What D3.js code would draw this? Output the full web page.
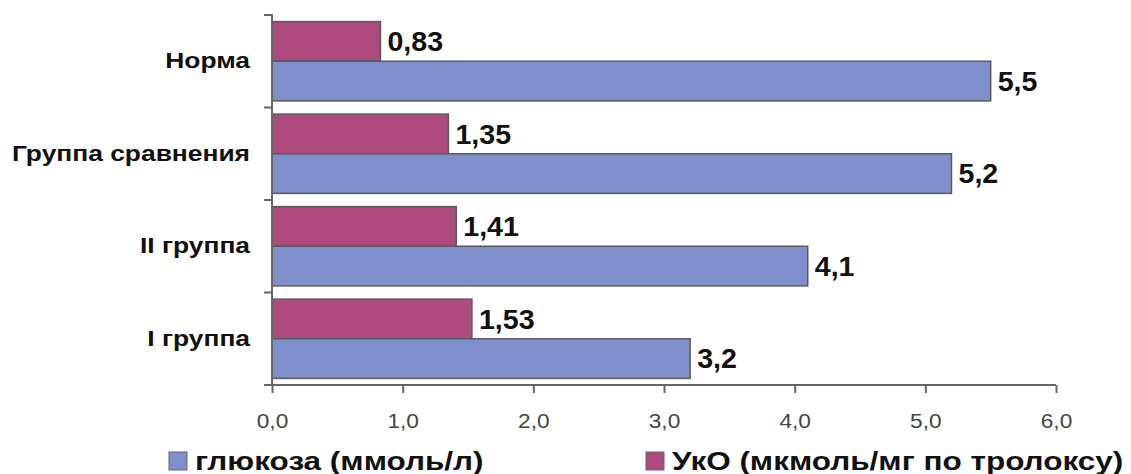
<!DOCTYPE html>
<html><head><meta charset="utf-8">
<script src="https://cdn.jsdelivr.net/npm/d3@7"></script>
<style>body{margin:0;background:#fff}svg{display:block}</style>
</head><body>
<svg id="c" width="1131" height="474"></svg>
<script>
const categories = ["Норма", "Группа сравнения", "II группа", "I группа"];
const seriesNames = ["УкО (мкмоль/мг по тролоксу)", "глюкоза (ммоль/л)"];
const ukoValues = [0.83, 1.35, 1.41, 1.53];
const glucoseValues = [5.5, 5.2, 4.1, 3.2];
const ukoLabels = ["0,83", "1,35", "1,41", "1,53"];
const glucoseLabels = ["5,5", "5,2", "4,1", "3,2"];
const xTicks = [0, 1, 2, 3, 4, 5, 6];

const colors = {uko: "#AE4A7E", glu: "#7F8FCB"};
const font = "'Liberation Sans', Arial, sans-serif";
const svg = d3.select("#c");
const m = {left: 272, right: 75, top: 15, bottom: 89};
const W = 1131, H = 474;

const x = d3.scaleLinear().domain([0, 6]).range([m.left, W - m.right]);
const y = d3.scaleBand().domain(categories).range([m.top, H - m.bottom]).paddingInner(0).paddingOuter(0);
const inner = d3.scaleBand().domain(["uko", "glu"]).range([0, y.bandwidth()]).paddingInner(0).paddingOuter(0.167);

const rows = categories.map((c, i) => ({c, uko: ukoValues[i], glu: glucoseValues[i], ul: ukoLabels[i], gl: glucoseLabels[i]}));

const g = svg.append("g");
["uko", "glu"].forEach(k => {
  g.selectAll("rect." + k).data(rows).enter().append("rect")
    .attr("x", x(0))
    .attr("y", d => y(d.c) + inner(k))
    .attr("width", d => x(d[k]) - x(0))
    .attr("height", inner.bandwidth())
    .attr("fill", colors[k])
    .attr("stroke", "#5a5a5a").attr("stroke-width", 1.5);
  g.selectAll("text." + k).data(rows).enter().append("text")
    .attr("transform", d => `translate(${x(d[k]) + 7},${y(d.c) + inner(k) + inner.bandwidth() / 2}) scale(1.06,1)`)
    .attr("dy", "0.36em")
    .attr("font-family", font).attr("font-weight", "bold").attr("font-size", 27)
    .attr("fill", "#111")
    .text(d => k === "uko" ? d.ul : d.gl);
});

// x axis
const xAxis = d3.axisBottom(x).tickValues(xTicks).tickSize(8).tickSizeOuter(0)
  .tickFormat(d => d3.format(".1f")(d).replace(".", ","));
const xa = svg.append("g").attr("transform", `translate(0,${H - m.bottom})`).call(xAxis);
xa.select(".domain").attr("stroke", "#666").attr("stroke-width", 2)
  .attr("d", `M${x(0) - 8},0H${x(6)}`);
xa.selectAll(".tick line").attr("stroke", "#666").attr("stroke-width", 2).attr("y1", 0).attr("y2", 8);
xa.selectAll(".tick text").attr("font-family", font).attr("font-size", 21).attr("fill", "#444")
  .attr("y", 0).attr("dy", 0).attr("transform", "translate(0,43) scale(1.08,1)");

// y axis
const yAxis = d3.axisLeft(y).tickSize(0).tickPadding(22);
const ya = svg.append("g").attr("transform", `translate(${x(0)},0)`).call(yAxis);
ya.select(".domain").attr("stroke", "#666").attr("stroke-width", 2)
  .attr("d", `M-8,${m.top}H0V${H - m.bottom}`);
ya.selectAll(".tick text").attr("font-family", font).attr("font-weight", "bold").attr("font-size", 22).attr("fill", "#111")
  .attr("x", 0).attr("transform", "translate(-22,0) scale(1.2,1)");
// category separators
const seps = y.domain().slice(1).map(c => y(c));
ya.selectAll("line.sep").data(seps).enter().append("line")
  .attr("x1", -8).attr("x2", 0).attr("y1", d => d).attr("y2", d => d)
  .attr("stroke", "#666").attr("stroke-width", 2);

// legend
const legend = [
  {name: seriesNames[1], color: colors.glu, x: 169},
  {name: seriesNames[0], color: colors.uko, x: 646}
];
const lg = svg.append("g").selectAll("g").data(legend).enter().append("g")
  .attr("transform", d => `translate(${d.x},452)`);
lg.append("rect").attr("width", 18).attr("height", 18).attr("fill", d => d.color)
  .attr("stroke", "#666").attr("stroke-width", 1);
lg.append("text").attr("transform", "translate(26,18) scale(1.26,1)")
  .attr("font-family", font).attr("font-weight", "bold").attr("font-size", 25).attr("fill", "#111")
  .text(d => d.name);
</script>
</body></html>
